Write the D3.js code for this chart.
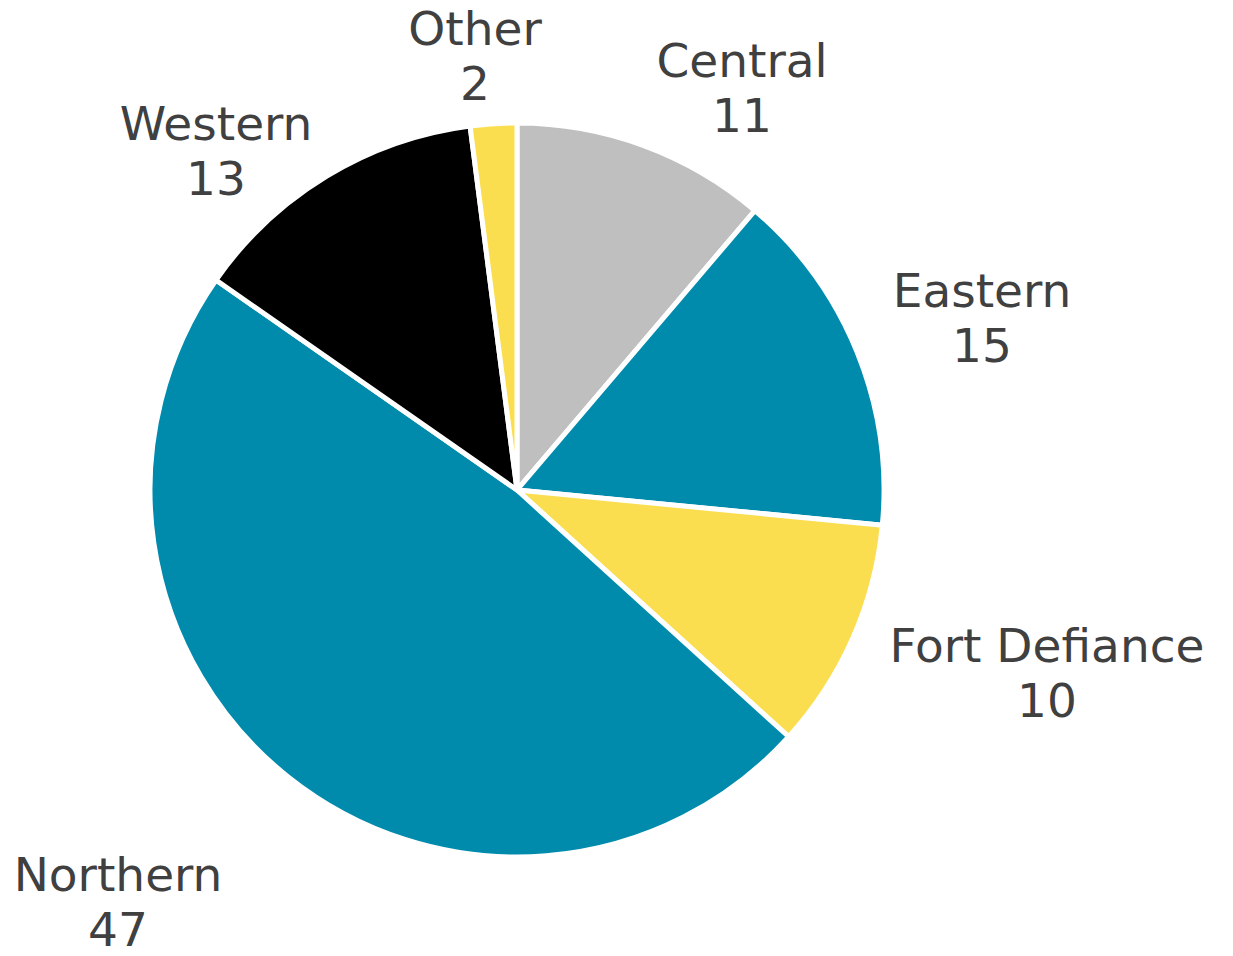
<!DOCTYPE html>
<html><head><meta charset="utf-8">
<script src="https://cdn.jsdelivr.net/npm/d3@7"></script>
<style>html,body{margin:0;padding:0;background:#fff;}svg{display:block;}</style>
</head><body>
<svg id="chart" width="1233" height="956"></svg>
<script>
const categories = ["Central", "Eastern", "Fort Defiance", "Northern", "Western", "Other"];
const values = [11, 15, 10, 47, 13, 2];
const colors = ["#BFBFBF", "#008BAD", "#FADE50", "#008BAD", "#000000", "#FADE50"];
// label centre positions relative to pie centre (layout)
const labelOffsets = [[225, -401], [465, -171], [530, 184], [-399, 413], [-301, -338], [-42, -433]];

const W = 1233, H = 956, cx = 517, cy = 490, R = 367;
const svg = d3.select("#chart");
const g = svg.append("g").attr("transform", `translate(${cx},${cy})`);
const data = categories.map((c, i) => ({name: c, value: values[i], color: colors[i], off: labelOffsets[i]}));
const pie = d3.pie().value(d => d.value).sort(null);
const arc = d3.arc().innerRadius(0).outerRadius(R);
g.selectAll("path").data(pie(data)).join("path")
  .attr("d", arc).attr("fill", d => d.data.color)
  .attr("stroke", "#fff").attr("stroke-width", 5).attr("stroke-linejoin", "miter");

const lab = g.selectAll("text").data(data).join("text")
  .attr("text-anchor", "middle")
  .attr("font-family", "'DejaVu Sans', Verdana, sans-serif")
  .attr("font-size", 47).attr("fill", "#404040")
  .attr("transform", d => `translate(${d.off[0]},${d.off[1]})`);
lab.append("tspan").attr("x", 0).attr("y", -12).text(d => d.name);
lab.append("tspan").attr("x", 0).attr("y", 43).text(d => d.value);
</script>
</body></html>
